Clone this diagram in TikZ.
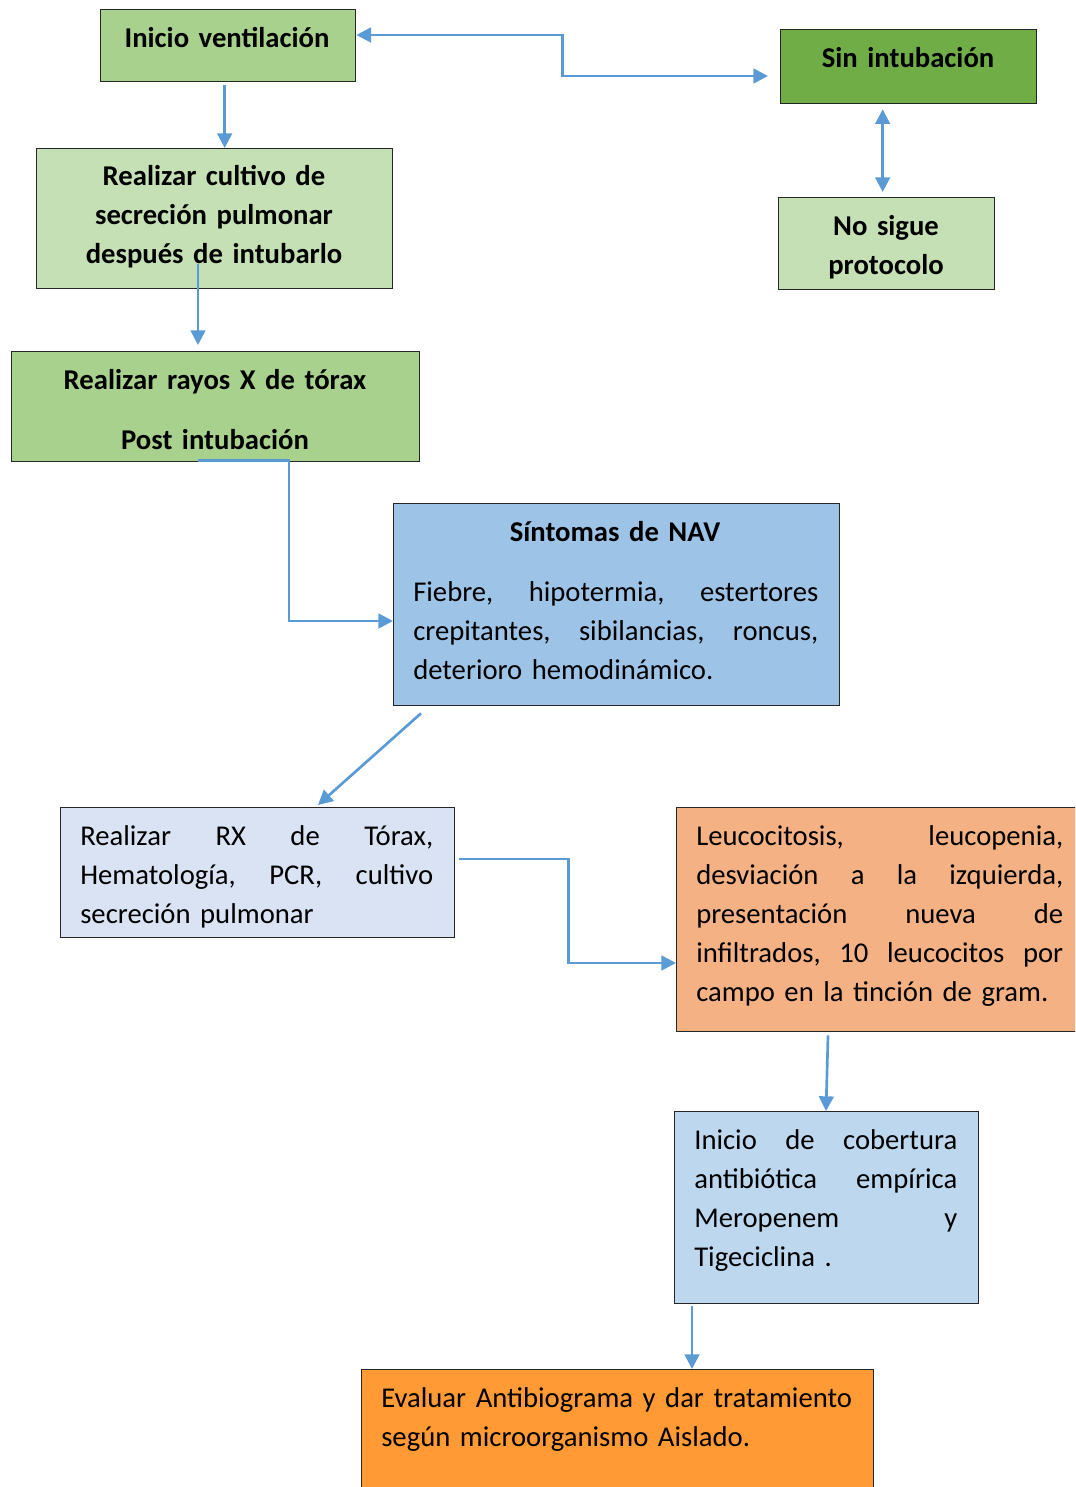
\documentclass[tikz,border=0pt]{standalone}
\usepackage{fontspec}
\setmainfont{Carlito}
\usetikzlibrary{calc,arrows.meta}
\definecolor{gA}{HTML}{A9D18E}
\definecolor{gB}{HTML}{70AD47}
\definecolor{gC}{HTML}{C5E0B4}
\definecolor{bA}{HTML}{9DC3E6}
\definecolor{bB}{HTML}{DAE3F3}
\definecolor{bC}{HTML}{BDD7EE}
\definecolor{oA}{HTML}{F4B183}
\definecolor{oB}{HTML}{FF9A35}
\definecolor{arr}{HTML}{5B9BD5}
\newcommand\jl[2]{\makebox[#1]{#2}}
\begin{document}
\begin{tikzpicture}[x=0.75pt,y=-0.75pt,
  boxn/.style={draw=black!85,line width=1pt,anchor=north west,inner sep=0pt,rectangle},
  txt/.style={inner sep=0pt,anchor=base,font=\fontsize{21.5}{29.25}\selectfont},
  ctxt/.style={txt,text width=330pt,align=center,font=\fontsize{21.5}{29.25}\selectfont\bfseries},
  jtxt/.style={txt,anchor=base west,align=left},
  conn/.style={draw=arr,line width=2pt,-{Triangle[length=11pt,width=11pt]}},
  conn2/.style={draw=arr,line width=2pt,{Triangle[length=11pt,width=11pt]}-{Triangle[length=11pt,width=11pt]}}
]
\useasboundingbox (0,0) rectangle (1075,1487);
\clip (0,0) rectangle (1075,1487);
% boxes
\node[boxn,fill=gA,minimum width=255*0.75pt,minimum height=72*0.75pt] (b1) at (100,9) {};
\node[boxn,fill=gB,minimum width=256*0.75pt,minimum height=74*0.75pt] (b2) at (780,29) {};
\node[boxn,fill=gC,minimum width=216*0.75pt,minimum height=92*0.75pt] (b3) at (778,197) {};
\node[boxn,fill=gC,minimum width=356*0.75pt,minimum height=140*0.75pt] (b4) at (36,148) {};
\node[boxn,fill=gA,minimum width=408*0.75pt,minimum height=110*0.75pt] (b5) at (11,351) {};
\node[boxn,fill=bA,minimum width=446*0.75pt,minimum height=202*0.75pt] (b6) at (393,503) {};
\node[boxn,fill=bB,minimum width=394*0.75pt,minimum height=130*0.75pt] (b7) at (60,807) {};
\node[boxn,fill=oA,minimum width=410*0.75pt,minimum height=224*0.75pt] (b8) at (676,807) {};
\node[boxn,fill=bC,minimum width=304*0.75pt,minimum height=192*0.75pt] (b9) at (674,1111) {};
\node[boxn,fill=oB,minimum width=512*0.75pt,minimum height=130*0.75pt] (b10) at (361,1369) {};
% texts
\node[ctxt] (t1) at (227,48) {Inicio ventilación};
\node[ctxt] (t2) at (908,68) {Sin intubación};
\node[ctxt] (t3) at (886,235) {No sigue\\protocolo};
\node[ctxt] (t4) at (214,186) {Realizar cultivo de\\secreción pulmonar\\después de intubarlo};
\node[ctxt] (t5) at (215,389) {Realizar rayos X de tórax\\[15.75pt]Post intubación};
\node[ctxt] (t6) at (615,541) {Síntomas de NAV};
\node[jtxt,text width=405*0.75pt] (t6b) at (413,601) {\jl{303.75pt}{Fiebre,\hfill hipotermia,\hfill estertores}\\\jl{303.75pt}{crepitantes,\hfill sibilancias,\hfill roncus,}\\deterioro hemodinámico.};
\node[jtxt,text width=353*0.75pt] (t7) at (80,845) {\jl{264.75pt}{Realizar\hfill RX\hfill de\hfill Tórax,}\\\jl{264.75pt}{Hematología,\hfill PCR,\hfill cultivo}\\secreción pulmonar};
\node[jtxt,text width=367*0.75pt] (t8) at (696,845) {\jl{275.25pt}{Leucocitosis,\hfill leucopenia,}\\\jl{275.25pt}{desviación\hfill a\hfill la\hfill izquierda,}\\\jl{275.25pt}{presentación\hfill nueva\hfill de}\\\jl{275.25pt}{infiltrados,\hfill 10\hfill leucocitos\hfill por}\\campo en la tinción de gram.};
\node[jtxt,text width=263*0.75pt] (t9) at (694,1149) {\jl{197.25pt}{Inicio\hfill de\hfill cobertura}\\\jl{197.25pt}{antibiótica\hfill empírica}\\\jl{197.25pt}{Meropenem\hfill y}\\Tigeciclina .};
\node[jtxt,text width=500*0.75pt] (t10) at (381,1407) {Evaluar Antibiograma y dar tratamiento\\según microorganismo Aislado.};
% connectors
\draw[conn2] (b1.east|-0,35) -- ++(206,0) |- ($(b2.west|-0,76)+(-12,0)$);
\draw[conn] ($(b4.north)+(10,-63)$) -- ($(b4.north)+(10,0)$);
\draw[conn2] ($(b3.north|-b2.south)+(-4,5)$) -- ($(b3.north)+(-4,-5)$);
\draw[conn] ($(b4.south west)+(162,-25)$) -- ($(b5.north west)+(187,-6)$);
\draw[conn] ($(b5.south west)+(187,-2)$) -- ++(91,0) |- (b6.west|-0,621);
\draw[conn] ($(b6.south west)+(28,7)$) -- ($(b7.north west)+(258,-2)$);
\draw[conn] ($(b7.east|-0,859)+(4,0)$) -- ++(109,0) |- (b8.west|-0,963);
\draw[conn] ($(b8.south west)+(152,3)$) -- ($(b9.north west)+(152,0)$);
\draw[conn] ($(b9.south west)+(18,2)$) -- ($(b10.north west)+(331,0)$);
\end{tikzpicture}
\end{document}
